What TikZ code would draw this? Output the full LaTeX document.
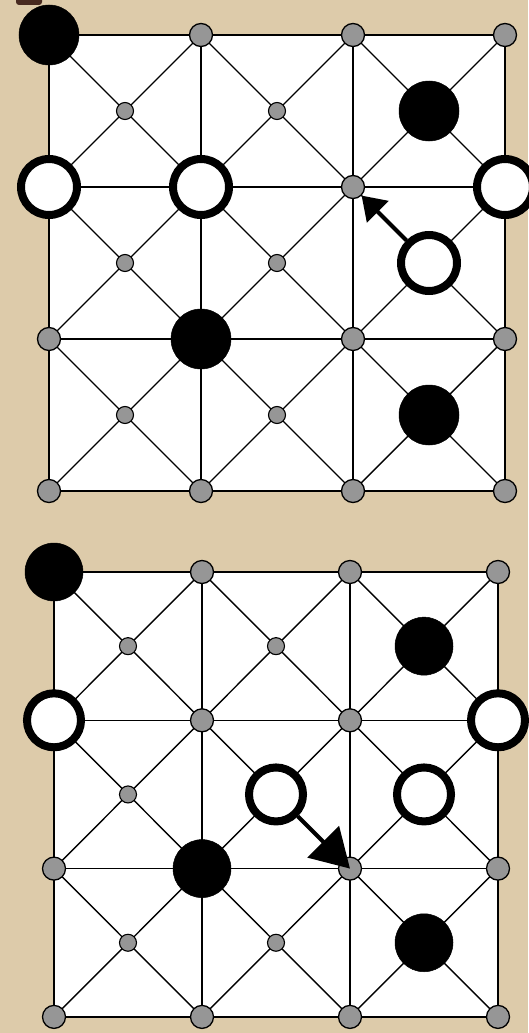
\documentclass[tikz,border=0pt]{standalone}
\usetikzlibrary{arrows.meta}
\definecolor{parch}{RGB}{221,203,170}
\definecolor{dotgray}{RGB}{150,150,150}
\definecolor{brownmark}{RGB}{72,42,32}
\tikzset{
  boardframe/.style={fill=white, draw=black, line width=1.8pt},
  gridline/.style={line width=1.4pt},
  pt/.style={circle, fill=dotgray, draw=black, line width=1.3pt, minimum size=23pt, inner sep=0pt},
  spt/.style={circle, fill=dotgray, draw=black, line width=1.1pt, minimum size=17pt, inner sep=0pt},
  blackpc/.style={circle, fill=black, draw=black, line width=0.5pt, minimum size=60pt, inner sep=0pt},
  whitepc/.style={circle, fill=white, draw=black, line width=8pt, minimum size=56pt, inner sep=0pt},
  movesmall/.style={line width=4pt, -{Triangle[length=23pt, width=30pt]}},
  movebig/.style={line width=4pt, -{Triangle[length=38pt, width=44pt]}},
}
\begin{document}
\begin{tikzpicture}[x=1pt,y=-1pt]
\fill[parch] (0,0) rectangle (528,1033);
\useasboundingbox (0,0) rectangle (528,1033);
\fill[brownmark, rounded corners=3pt] (16,-6) rectangle (42,5);

% ---------- top board ----------
\begin{scope}[shift={(49,35)}, x=152pt, y=-152pt]
  \draw[boardframe] (0,0) rectangle (3,3);
  \foreach \i in {1,2} {
    \draw[gridline] (\i,0) -- (\i,3);
    \draw[gridline] (0,\i) -- (3,\i);
  }
  \foreach \i in {0,1,2} \foreach \j in {0,1,2} {
    \draw[gridline] (\i,\j) -- ++(1,1);
    \draw[gridline] (\i+1,\j) -- ++(-1,1);
  }
  % grid points
  \node[pt] (a10) at (1,0) {};
  \node[pt] (a20) at (2,0) {};
  \node[pt] (a30) at (3,0) {};
  \node[pt] (a21) at (2,1) {};
  \node[pt] (a02) at (0,2) {};
  \node[pt] (a22) at (2,2) {};
  \node[pt] (a32) at (3,2) {};
  \node[pt] (a03) at (0,3) {};
  \node[pt] (a13) at (1,3) {};
  \node[pt] (a23) at (2,3) {};
  \node[pt] (a33) at (3,3) {};
  % cell centres
  \node[spt] (ac00) at (0.5,0.5) {};
  \node[spt] (ac10) at (1.5,0.5) {};
  \node[spt] (ac01) at (0.5,1.5) {};
  \node[spt] (ac11) at (1.5,1.5) {};
  \node[spt] (ac02) at (0.5,2.5) {};
  \node[spt] (ac12) at (1.5,2.5) {};
  % pieces
  \node[blackpc] (ab1) at (0,0) {};
  \node[blackpc] (ab2) at (2.5,0.5) {};
  \node[blackpc] (ab3) at (1,2) {};
  \node[blackpc] (ab4) at (2.5,2.5) {};
  \node[whitepc] (aw1) at (0,1) {};
  \node[whitepc] (aw2) at (1,1) {};
  \node[whitepc] (aw3) at (3,1) {};
  \node[whitepc] (aw4) at (2.5,1.5) {};
  \draw[movesmall] (aw4) -- (a21);
\end{scope}

% ---------- bottom board ----------
\begin{scope}[shift={(54,572)}, x=148pt, y=-148.3pt]
  \draw[boardframe] (0,0) rectangle (3,3);
  \foreach \i in {1,2} {
    \draw[gridline] (\i,0) -- (\i,3);
    \draw[gridline] (0,\i) -- (3,\i);
  }
  \foreach \i in {0,1,2} \foreach \j in {0,1,2} {
    \draw[gridline] (\i,\j) -- ++(1,1);
    \draw[gridline] (\i+1,\j) -- ++(-1,1);
  }
  % grid points
  \node[pt] (b10) at (1,0) {};
  \node[pt] (b20) at (2,0) {};
  \node[pt] (b30) at (3,0) {};
  \node[pt] (b11) at (1,1) {};
  \node[pt] (b21) at (2,1) {};
  \node[pt] (b02) at (0,2) {};
  \node[pt] (b22) at (2,2) {};
  \node[pt] (b32) at (3,2) {};
  \node[pt] (b03) at (0,3) {};
  \node[pt] (b13) at (1,3) {};
  \node[pt] (b23) at (2,3) {};
  \node[pt] (b33) at (3,3) {};
  % cell centres
  \node[spt] (bc00) at (0.5,0.5) {};
  \node[spt] (bc10) at (1.5,0.5) {};
  \node[spt] (bc01) at (0.5,1.5) {};
  \node[spt] (bc02) at (0.5,2.5) {};
  \node[spt] (bc12) at (1.5,2.5) {};
  % pieces
  \node[blackpc, minimum size=58pt] (bb1) at (0,0) {};
  \node[blackpc, minimum size=58pt] (bb2) at (2.5,0.5) {};
  \node[blackpc, minimum size=58pt] (bb3) at (1,2) {};
  \node[blackpc, minimum size=58pt] (bb4) at (2.5,2.5) {};
  \node[whitepc, minimum size=54pt] (bw1) at (0,1) {};
  \node[whitepc, minimum size=54pt] (bw2) at (3,1) {};
  \node[whitepc, minimum size=54pt] (bw3) at (1.5,1.5) {};
  \node[whitepc, minimum size=54pt] (bw4) at (2.5,1.5) {};
  \draw[movebig] (bw3) -- (b22.center);
\end{scope}
\end{tikzpicture}
\end{document}
